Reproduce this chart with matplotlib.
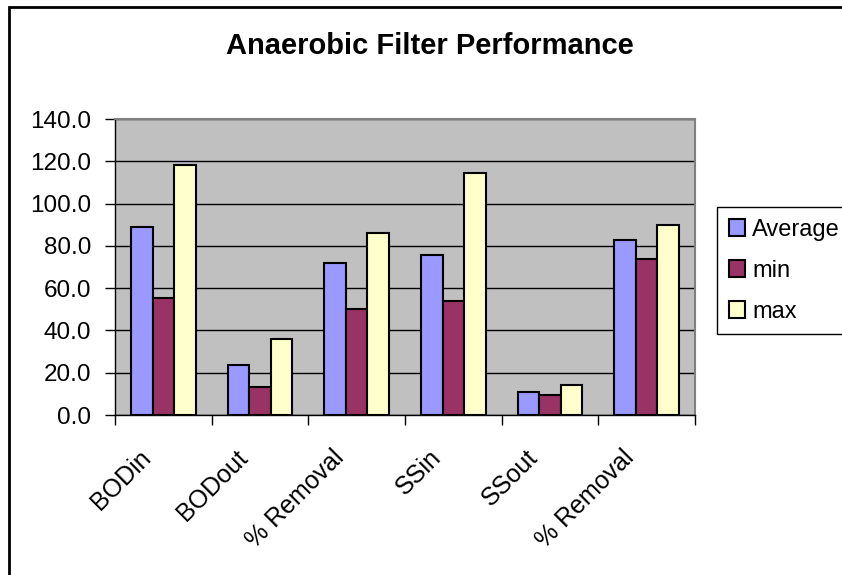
import matplotlib.pyplot as plt
import matplotlib.transforms as mtransforms
from matplotlib.patches import Rectangle
import numpy as np

plt.rcParams['font.family'] = ['Liberation Sans', 'DejaVu Sans']

categories = ["BODin", "BODout", "% Removal", "SSin", "SSout", "% Removal"]
average = [88.8, 23.5, 71.7, 75.5, 11.0, 82.9]
minimum = [55.5, 13.1, 50.0, 53.8, 9.3, 73.6]
maximum = [118.1, 35.8, 85.9, 114.3, 14.0, 89.7]
series_names = ["Average", "min", "max"]
colors = ["#9999FF", "#993366", "#FFFFCC"]

W, H = 842, 575
fig = plt.figure(figsize=(W / 100, H / 100), dpi=100)
fig.patch.set_facecolor("white")

# chart frame (runs off the right and bottom edges)
fig.patches.append(Rectangle((9 / W, -0.05), 1.1, 1 - 7 / H + 0.05,
                             transform=fig.transFigure, fill=False,
                             edgecolor="black", linewidth=2))

ax = fig.add_axes([115 / W, 1 - 415 / H, 580 / W, 296 / H])
ax.set_facecolor("#C0C0C0")

x = np.arange(len(categories)) + 0.5
bw = 1 / 4.5
for k, (vals, name, c) in enumerate(zip([average, minimum, maximum], series_names, colors)):
    ax.bar(x + (k - 1) * bw, vals, width=bw, color=c, edgecolor="black",
           linewidth=1.5, label=name, zorder=3)

ax.set_xlim(0, len(categories))
ax.set_ylim(0, 140)
ax.set_yticks(np.arange(0, 141, 20))
ax.set_yticklabels([f"{v:.1f}" for v in np.arange(0, 141, 20)])
ax.yaxis.grid(True, color="black", linewidth=1, zorder=0)
ax.set_axisbelow(True)

ax.set_xticks(np.arange(0, len(categories) + 1))
ax.set_xticklabels([])
ax.set_xticks(x, minor=True)
ax.set_xticklabels(categories, minor=True, rotation=45, ha="right", va="center",
                   rotation_mode="anchor", fontsize=18)
ax.tick_params(axis="x", which="minor", length=0, pad=28)
ax.tick_params(axis="x", which="major", length=7, width=1, direction="out")
ax.tick_params(axis="y", length=7, width=1, direction="out", labelsize=17.5, pad=10)
shift = mtransforms.ScaledTranslation(-16 / 100, 0, fig.dpi_scale_trans)
for lab in ax.get_xticklabels(minor=True):
    lab.set_transform(lab.get_transform() + shift)

for side in ["top", "right"]:
    ax.spines[side].set_color("#808080")
    ax.spines[side].set_linewidth(1.5)
for side in ["left", "bottom"]:
    ax.spines[side].set_color("black")
    ax.spines[side].set_linewidth(1)

fig.text(430 / W, 1 - 46 / H, "Anaerobic Filter Performance", ha="center",
         va="center", fontsize=21, fontweight="bold")

leg = ax.legend(loc="upper left", bbox_to_anchor=(717 / W, 1 - 207 / H),
                bbox_transform=fig.transFigure, fontsize=17, frameon=True,
                fancybox=False, edgecolor="black", framealpha=1,
                handlelength=0.7, handleheight=0.7, handletextpad=0.3,
                labelspacing=0.8, borderpad=0.5, borderaxespad=0)
leg.get_frame().set_linewidth(1)

fig.savefig("out.png", dpi=100)
